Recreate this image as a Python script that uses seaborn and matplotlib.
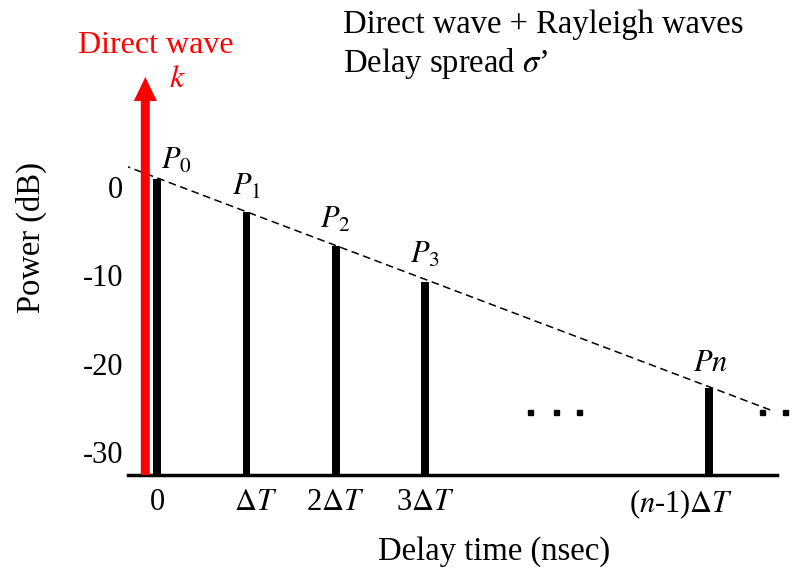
import pandas as pd
import matplotlib
import matplotlib.pyplot as plt
import seaborn as sns

matplotlib.use('Agg')

# delay positions (in units of delta T) and power of each path (dB)
delay = [0, 1, 2, 3, 6.18]
power = [0.87, -2.8, -6.68, -10.72, -22.76]
path_labels = ['$P_0$', '$P_1$', '$P_2$', '$P_3$', '$Pn$']
label_dx = [19, 0, 0, 0, 1]      # pixel offsets of path labels
label_dy = [11, 17, 18, 19, 17]

# exponential decay (straight in dB) guide line
trend_x = [-0.381, 6.865]
trend_y = [2.49, -25.25]

# ellipsis dots
dots_x = [4.176, 4.467, 4.724, 6.775, 7.03]
dots_y = [-25.48] * 5

xtick_pos = [0, 1.1, 2, 3, 5.87]
xtick_labels = ['0', r'$\Delta T$', r'2$\Delta T$', r'3$\Delta T$', r'($n$-1)$\Delta T$']
ytick_pos = [0, -10, -20, -30]
ytick_labels = ['0', '-10', '-20', '-30']

floor = -32.62
direct_x = -0.131
direct_top = 12.46

sns.set_theme(style='white', rc={'text.color': 'black', 'axes.labelcolor': 'black',
                                 'xtick.color': 'black', 'ytick.color': 'black'})
plt.rcParams['font.family'] = ['Liberation Serif', 'DejaVu Serif']
plt.rcParams['mathtext.fontset'] = 'stix'

df = pd.DataFrame({'delay': delay, 'power': power})
df['height'] = df['power'] - floor

fig = plt.figure(figsize=(8.06, 5.71), dpi=100)
ax = fig.add_axes([128 / 806, 96 / 571, 678 / 806, 435 / 571])

sns.barplot(data=df, x='delay', y='height', native_scale=True, width=0.086,
            color='black', errorbar=None, bottom=floor, linewidth=0,
            saturation=1, ax=ax)

sns.lineplot(x=trend_x, y=trend_y, color='black', lw=1.1, dashes=False,
             linestyle=(0, (5, 3)), ax=ax)

ax.plot(dots_x, dots_y, ls='none', marker='s', ms=3.6, color='black',
        clip_on=False)

# direct wave arrow
ax.annotate('', xy=(direct_x, direct_top), xytext=(direct_x, floor),
            arrowprops=dict(arrowstyle='simple,head_length=1.73,head_width=1.66,tail_width=0.648',
                            mutation_scale=10, color='red', lw=0,
                            shrinkA=0, shrinkB=0),
            annotation_clip=False, zorder=5)

for x, y, lab, dx, dy in zip(delay, power, path_labels, label_dx, label_dy):
    ax.annotate(lab, xy=(x, y), xytext=(dx, dy), textcoords='offset pixels',
                ha='center', va='baseline', fontsize=22)

ax.set_xlim(-0.325, 7.265)
ax.set_ylim(floor, 16.65)
ax.set_xticks(xtick_pos, xtick_labels, fontsize=22)
ax.set_yticks(ytick_pos, ytick_labels, fontsize=22)
ax.tick_params(axis='x', length=0, pad=9)
ax.tick_params(axis='y', length=0, pad=3.6)

for s in ['left', 'top', 'right']:
    ax.spines[s].set_visible(False)
ax.spines['bottom'].set_color('black')
ax.spines['bottom'].set_linewidth(2.5)
ax.spines['bottom'].set_bounds(-0.325, 6.94)

ax.set_xlabel('Delay time (nsec)', fontsize=23.5, va='center')
ax.xaxis.set_label_coords(0.54, -0.175)
ax.set_ylabel('Power (dB)', fontsize=23.5, va='center')
ax.yaxis.set_label_coords(-0.142, 0.545)

fig.text(78 / 806, 1 - 52.7 / 571, 'Direct wave', color='red', fontsize=23,
         ha='left', va='baseline')
fig.text(177 / 806, 1 - 87 / 571, '$k$', color='red', fontsize=23,
         ha='center', va='baseline')
fig.text(343 / 806, 1 - 33 / 571, 'Direct wave + Rayleigh waves',
         fontsize=23.5, ha='left', va='baseline')
fig.text(343 / 806, 1 - 72 / 571, 'Delay spread $\\sigma$\u2019',
         fontsize=23.5, ha='left', va='baseline')

plt.savefig('out.png', dpi=100)
